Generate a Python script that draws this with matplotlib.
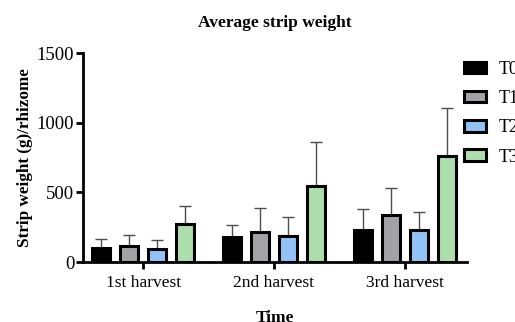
import matplotlib
matplotlib.use("Agg")
import matplotlib.pyplot as plt
import numpy as np

plt.rcParams['font.family'] = ['Liberation Serif', 'DejaVu Serif']

harvests = ['1st harvest', '2nd harvest', '3rd harvest']
treatments = ['T0', 'T1', 'T2', 'T3']
means = {
    'T0': [103, 182, 232],
    'T1': [115, 216, 336],
    'T2': [96, 189, 228],
    'T3': [273, 546, 764],
}
upper = {
    'T0': [163, 268, 381],
    'T1': [192, 390, 534],
    'T2': [158, 321, 357],
    'T3': [403, 862, 1107],
}
colors = ['#000000', '#a3a3a7', '#92c3f7', '#addfad']

fig = plt.figure(figsize=(5.15, 3.22), dpi=100)
ax = fig.add_axes([0.1606, 0.1863, 0.7454, 0.6477])

x = np.arange(len(harvests))
pitch = 0.214
width = 0.138
for i, t in enumerate(treatments):
    pos = x + (i - 1.5) * pitch
    m = np.array(means[t])
    err = np.array(upper[t]) - m
    ax.bar(pos, m, width, color=colors[i], edgecolor='black', linewidth=2.2,
           label=t, zorder=2)
    ax.errorbar(pos, m, yerr=[np.zeros_like(err), err], fmt='none',
                ecolor='#4d4d4d', elinewidth=1.0, capsize=4, capthick=1.0, zorder=1)

ax.set_xlim(-0.464, 2.474)
ax.set_ylim(0, 1500)
ax.set_yticks([0, 500, 1000, 1500])
ax.set_xticks(x)
ax.set_xticklabels(harvests, fontsize=12.5)
ax.tick_params(axis='y', labelsize=13.5, width=2, length=5, pad=1)
ax.tick_params(axis='x', width=2, length=5, pad=4)
for s in ['top', 'right']:
    ax.spines[s].set_visible(False)
for s in ['left', 'bottom']:
    ax.spines[s].set_linewidth(2)

ax.set_title('Average strip weight', fontsize=12.5, fontweight='bold', pad=19)
ax.set_ylabel('Strip weight (g)/rhizome', fontsize=12.3, fontweight='bold', labelpad=3)
ax.set_xlabel('Time', fontsize=12.5, fontweight='bold', labelpad=14)

leg = ax.legend(loc='upper left', bbox_to_anchor=(0.993, 0.965), frameon=False,
                fontsize=13, handlelength=1.2, handleheight=0.6,
                labelspacing=0.68, handletextpad=0.75, borderaxespad=0, borderpad=0)

fig.savefig('out.png', dpi=100)
